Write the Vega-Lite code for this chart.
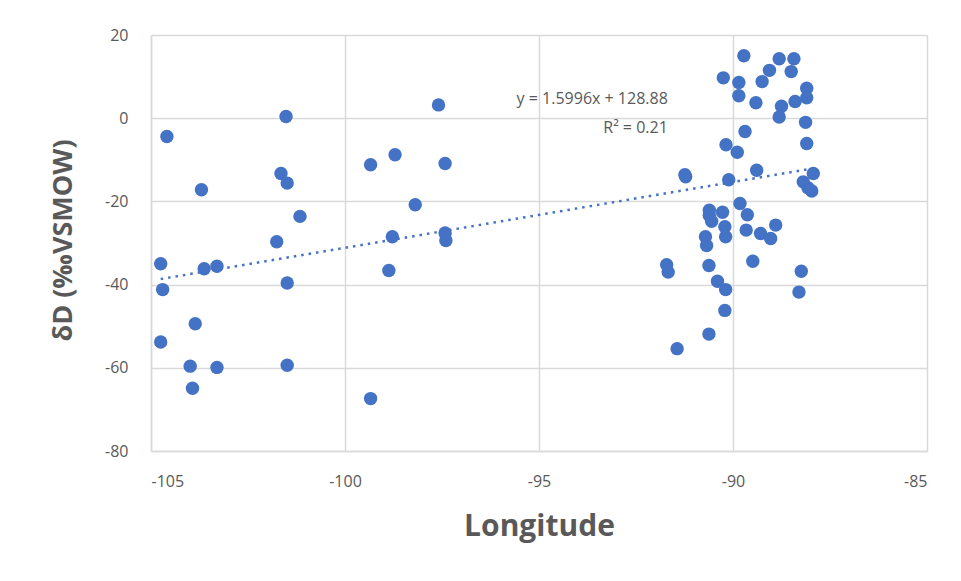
{
  "$schema": "https://vega.github.io/schema/vega-lite/v6.json",
  "width": 776,
  "height": 416,
  "autosize": {"type": "none"},
  "padding": {"left": 151, "top": 35, "right": 34, "bottom": 130},
  "background": "white",
  "config": {
    "font": "Open Sans",
    "view": {"stroke": null},
    "axis": {
      "gridColor": "#d9d9d9",
      "gridWidth": 1.5,
      "domainColor": "#d9d9d9",
      "domainWidth": 1.5,
      "ticks": false,
      "labelColor": "#595959",
      "labelFontSize": 16,
      "labelFont": "Open Sans",
      "titleColor": "#595959",
      "titleFontWeight": "bold",
      "titleFont": "Open Sans"
    }
  },
  "layer": [
    {
      "data": {
        "values": [
          {"lon": -104.59, "d": -4.4}, {"lon": -101.52, "d": 0.4}, {"lon": -103.70, "d": -17.2},
          {"lon": -101.65, "d": -13.3}, {"lon": -101.49, "d": -15.6}, {"lon": -101.16, "d": -23.6},
          {"lon": -99.34, "d": -11.2}, {"lon": -98.71, "d": -8.8}, {"lon": -98.19, "d": -20.8},
          {"lon": -101.76, "d": -29.7}, {"lon": -104.75, "d": -35.0}, {"lon": -103.63, "d": -36.2},
          {"lon": -103.30, "d": -35.6}, {"lon": -104.70, "d": -41.2}, {"lon": -101.49, "d": -39.6},
          {"lon": -98.78, "d": -28.5}, {"lon": -98.87, "d": -36.6}, {"lon": -103.86, "d": -49.4},
          {"lon": -104.75, "d": -53.8}, {"lon": -103.99, "d": -59.6}, {"lon": -103.30, "d": -59.9},
          {"lon": -101.49, "d": -59.4}, {"lon": -103.93, "d": -64.9}, {"lon": -99.34, "d": -67.4},
          {"lon": -97.59, "d": 3.2}, {"lon": -97.42, "d": -10.9}, {"lon": -97.42, "d": -27.6},
          {"lon": -97.40, "d": -29.4},
          {"lon": -89.72, "d": 15.0}, {"lon": -88.81, "d": 14.3}, {"lon": -88.43, "d": 14.3},
          {"lon": -89.06, "d": 11.5}, {"lon": -88.50, "d": 11.2}, {"lon": -90.25, "d": 9.7},
          {"lon": -89.85, "d": 8.6}, {"lon": -89.25, "d": 8.8}, {"lon": -88.10, "d": 7.2},
          {"lon": -89.85, "d": 5.4}, {"lon": -88.10, "d": 4.9}, {"lon": -89.41, "d": 3.7},
          {"lon": -88.75, "d": 2.9}, {"lon": -88.40, "d": 4.0}, {"lon": -88.81, "d": 0.3},
          {"lon": -88.13, "d": -1.0}, {"lon": -89.69, "d": -3.2}, {"lon": -88.10, "d": -6.1},
          {"lon": -90.18, "d": -6.4}, {"lon": -89.89, "d": -8.2}, {"lon": -91.24, "d": -13.6},
          {"lon": -91.22, "d": -14.1}, {"lon": -89.39, "d": -12.5}, {"lon": -90.11, "d": -14.8},
          {"lon": -87.93, "d": -13.3}, {"lon": -88.19, "d": -15.3}, {"lon": -88.07, "d": -16.7},
          {"lon": -87.97, "d": -17.5}, {"lon": -89.82, "d": -20.5}, {"lon": -90.61, "d": -22.1},
          {"lon": -90.27, "d": -22.6}, {"lon": -90.61, "d": -23.4}, {"lon": -90.55, "d": -24.8},
          {"lon": -89.63, "d": -23.2}, {"lon": -90.21, "d": -26.1}, {"lon": -90.19, "d": -28.5},
          {"lon": -89.66, "d": -26.9}, {"lon": -89.29, "d": -27.7}, {"lon": -89.03, "d": -28.9},
          {"lon": -88.90, "d": -25.7}, {"lon": -90.71, "d": -28.5}, {"lon": -90.68, "d": -30.6},
          {"lon": -91.71, "d": -35.2}, {"lon": -91.67, "d": -37.0}, {"lon": -90.62, "d": -35.4},
          {"lon": -89.49, "d": -34.4}, {"lon": -88.24, "d": -36.8}, {"lon": -90.40, "d": -39.2},
          {"lon": -90.19, "d": -41.2}, {"lon": -88.30, "d": -41.8}, {"lon": -90.21, "d": -46.2},
          {"lon": -90.62, "d": -51.9}, {"lon": -91.44, "d": -55.4}
        ]
      },
      "layer": [
        {
          "mark": {"type": "circle", "size": 180, "color": "#4472C4", "opacity": 1},
          "encoding": {
            "x": {
              "field": "lon", "type": "quantitative",
              "scale": {"domain": [-105, -85], "nice": false, "zero": false},
              "axis": {"values": [-105, -100, -95, -90, -85], "labelExpr": "toString(datum.value)", "title": "Longitude", "labelPadding": 22, "titlePadding": 22, "titleFontSize": 30}
            },
            "y": {
              "field": "d", "type": "quantitative",
              "scale": {"domain": [-80, 20], "nice": false, "zero": false},
              "axis": {"values": [-80, -60, -40, -20, 0, 20], "labelExpr": "toString(datum.value)", "title": "δD (‰VSMOW)", "labelPadding": 23, "titleFontSize": 27, "titleX": -74, "titleY": 205, "titleBaseline": "bottom"}
            }
          }
        },
        {
          "transform": [{"regression": "d", "on": "lon"}],
          "mark": {"type": "line", "color": "#4472C4", "strokeWidth": 2.5, "strokeDash": [2.5, 5]},
          "encoding": {
            "x": {"field": "lon", "type": "quantitative"},
            "y": {"field": "d", "type": "quantitative"}
          }
        }
      ]
    },
    {
      "data": {"values": [{}]},
      "mark": {"type": "text", "align": "right", "baseline": "middle", "fontSize": 16, "color": "#595959", "font": "Open Sans"},
      "encoding": {
        "x": {"datum": -91.68},
        "y": {"datum": 4.7},
        "text": {"value": "y = 1.5996x + 128.88"}
      }
    },
    {
      "data": {"values": [{}]},
      "mark": {"type": "text", "align": "right", "baseline": "middle", "fontSize": 16, "color": "#595959", "font": "Open Sans"},
      "encoding": {
        "x": {"datum": -91.68},
        "y": {"datum": -2.27},
        "text": {"value": "R² = 0.21"}
      }
    }
  ]
}
